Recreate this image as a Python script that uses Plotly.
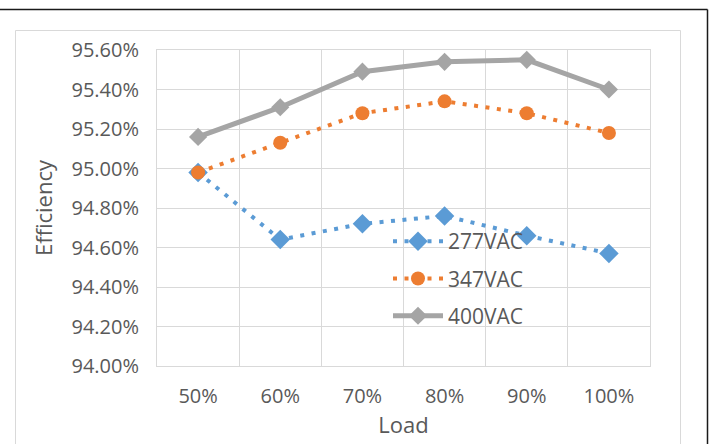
import plotly.graph_objects as go

# Efficiency vs. load for three input voltages
loads = ["50%", "60%", "70%", "80%", "90%", "100%"]
eff_277 = [94.98, 94.64, 94.72, 94.76, 94.66, 94.57]
eff_347 = [94.98, 95.13, 95.28, 95.34, 95.28, 95.18]
eff_400 = [95.16, 95.31, 95.49, 95.54, 95.55, 95.40]

y_ticks = [94.0, 94.2, 94.4, 94.6, 94.8, 95.0, 95.2, 95.4, 95.6]
y_tick_text = [f"{v:.2f}%" for v in y_ticks]

FONT = "Open Sans"
TXT = "#595959"
GRID = "#D9D9D9"

# plot area in pixels: left 157, right 650, top 50, bottom 366
W, H = 715, 444
L, R, T, B = 157, 65, 50, 78
pw, ph = W - L - R, H - T - B


def px_x(x):
    return (x - L) / pw


def px_y(y):
    return (H - B - y) / ph


fig = go.Figure()
fig.add_trace(go.Scatter(
    x=loads, y=eff_277, name="277VAC", mode="lines+markers",
    line=dict(color="#5B9BD5", width=4, dash="4px,7.5px"),
    marker=dict(symbol="diamond", size=15, color="#5B9BD5"),
    legendgroup="a",
))
fig.add_trace(go.Scatter(
    x=loads, y=eff_347, name="347VAC", mode="lines+markers",
    line=dict(color="#ED7D31", width=4, dash="4px,7.5px"),
    marker=dict(symbol="circle", size=14, color="#ED7D31"),
    legendgroup="b",
))
fig.add_trace(go.Scatter(
    x=loads, y=eff_400, name="400VAC", mode="lines+markers",
    line=dict(color="#A5A5A5", width=5),
    marker=dict(symbol="diamond", size=14, color="#A5A5A5"),
    legendgroup="c",
))

fig.update_layout(
    width=W, height=H,
    margin=dict(l=L, r=R, t=T, b=B),
    paper_bgcolor="white", plot_bgcolor="white",
    font=dict(family=FONT, color=TXT, size=20),
    showlegend=True,
    legend=dict(
        x=px_x(388), y=px_y(221), xanchor="left", yanchor="top",
        bgcolor="rgba(0,0,0,0)", font=dict(size=21, color=TXT, family=FONT),
        tracegroupgap=7, traceorder="grouped", itemwidth=50,
    ),
    xaxis=dict(
        type="category", range=[-0.5, 5.5], tickson="boundaries",
        showgrid=True, gridcolor=GRID, gridwidth=1,
        showline=True, linecolor=GRID, mirror=True,
        ticks="", ticklabelstandoff=12,
        tickfont=dict(size=20, color=TXT),
        title=dict(text="Load", font=dict(size=22, color=TXT), standoff=2),
        fixedrange=True,
    ),
    yaxis=dict(
        range=[94.0, 95.6], tickvals=y_ticks, ticktext=y_tick_text,
        showgrid=True, gridcolor=GRID, gridwidth=1, zeroline=False,
        showline=True, linecolor=GRID, mirror=True,
        ticks="", ticklabelstandoff=13,
        tickfont=dict(size=20, color=TXT),
        title=dict(text="Efficiency", font=dict(size=22, color=TXT), standoff=12),
        fixedrange=True,
    ),
    shapes=[
        # light chart-area frame
        dict(type="rect", xref="paper", yref="paper",
             x0=px_x(15.5), x1=px_x(680.5), y0=px_y(470), y1=px_y(30.5),
             line=dict(color=GRID, width=1), layer="below"),
        # dark outer frame (top and right edges)
        dict(type="line", xref="paper", yref="paper",
             x0=px_x(0), x1=px_x(707.5), y0=px_y(9.5), y1=px_y(9.5),
             line=dict(color="#1a1a1a", width=1.5)),
        dict(type="line", xref="paper", yref="paper",
             x0=px_x(707.5), x1=px_x(707.5), y0=px_y(9.5), y1=px_y(450),
             line=dict(color="#1a1a1a", width=1.5)),
    ],
)

fig.write_html("out.html", config=dict(displayModeBar=False))
